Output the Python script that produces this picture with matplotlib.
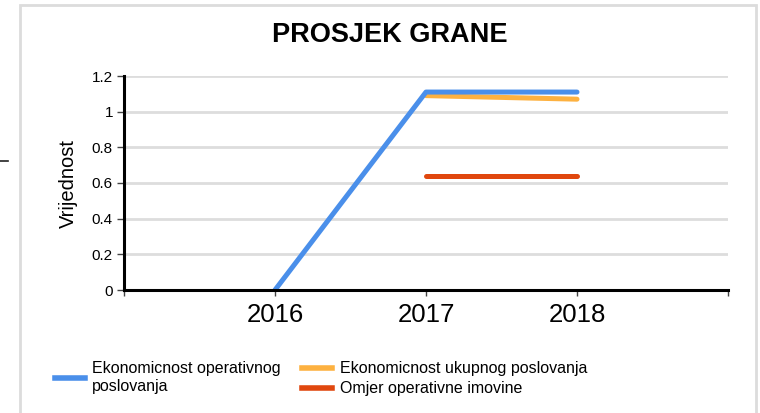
import matplotlib.pyplot as plt
from matplotlib.lines import Line2D
from matplotlib.patches import Rectangle

plt.rcParams['font.family'] = ['Liberation Sans', 'DejaVu Sans']

# --- data ---
years = [2016, 2017, 2018]
tick_years = [2015, 2016, 2017, 2018, 2019]
tick_labels = ['', '2016', '2017', '2018', '']
operativno = [0.0, 1.11, 1.11]
ukupno_years = [2017, 2018]
ukupno = [1.09, 1.07]
imovina_years = [2017, 2018]
imovina = [0.64, 0.64]
y_ticks = [0, 0.2, 0.4, 0.6, 0.8, 1.0, 1.2]
y_tick_labels = ['0', '0.2', '0.4', '0.6', '0.8', '1', '1.2']

blue = '#4A8FEA'
orange = '#FDB140'
red = '#E0470E'

W, H = 760, 413
fig = plt.figure(figsize=(W / 100, H / 100), dpi=100)


def fx(px):
    return px / W


def fy(py):
    return 1 - py / H


# outer frame and stray dash on the left
fig.add_artist(Rectangle((fx(20), fy(440)), fx(756) - fx(20), fy(5) - fy(440),
                         transform=fig.transFigure, fill=False,
                         edgecolor='#dcdcdc', linewidth=2))
fig.add_artist(Line2D([fx(0), fx(8)], [fy(161), fy(161)],
                      transform=fig.transFigure, color='#222222', linewidth=1.2))

ax = fig.add_axes([fx(124), fy(290), fx(728) - fx(124), fy(76) - fy(290)])

ax.plot(years, operativno, color=blue, linewidth=3.6, solid_capstyle='round', zorder=5)
ax.plot(ukupno_years, ukupno, color=orange, linewidth=3.6, solid_capstyle='round', zorder=4)
ax.plot(imovina_years, imovina, color=red, linewidth=3.6, solid_capstyle='round', zorder=4)

ax.set_xlim(2015, 2019)
ax.set_ylim(0, 1.2)
ax.set_xticks(tick_years)
ax.set_xticklabels(tick_labels, fontsize=18.5)
ax.set_yticks(y_ticks)
ax.set_yticklabels(y_tick_labels, fontsize=11)
ax.tick_params(axis='x', length=4, width=1, color='#444444', pad=5)
ax.tick_params(axis='y', length=5, width=1, color='#444444', pad=3)

ax.grid(axis='y', color='#dddddd', linewidth=2)
ax.set_axisbelow(True)
for s in ['top', 'right']:
    ax.spines[s].set_visible(False)
for s in ['left', 'bottom']:
    ax.spines[s].set_linewidth(2.2)
    ax.spines[s].set_color('black')
    ax.spines[s].set_zorder(6)

ax.set_ylabel('Vrijednost', fontsize=14.5, labelpad=10)

fig.text(fx(390), fy(35), 'PROSJEK GRANE', fontsize=19.5, fontweight='bold',
         ha='center', va='center')

# legend drawn by hand to mimic the two-column layout
def legend_entry(x_line, y_line, color, x_text, y_text, label):
    fig.add_artist(Line2D([fx(x_line), fx(x_line + 30)], [fy(y_line), fy(y_line)],
                          transform=fig.transFigure, color=color, linewidth=4))
    fig.text(fx(x_text), fy(y_text), label, fontsize=11.5, ha='left', va='center',
             linespacing=1.25)


legend_entry(55, 378, blue, 92, 378, 'Ekonomicnost operativnog\nposlovanja')
legend_entry(302, 368, orange, 340, 368, 'Ekonomicnost ukupnog poslovanja')
legend_entry(302, 388, red, 340, 388, 'Omjer operativne imovine')

fig.savefig('out.png', dpi=100)
